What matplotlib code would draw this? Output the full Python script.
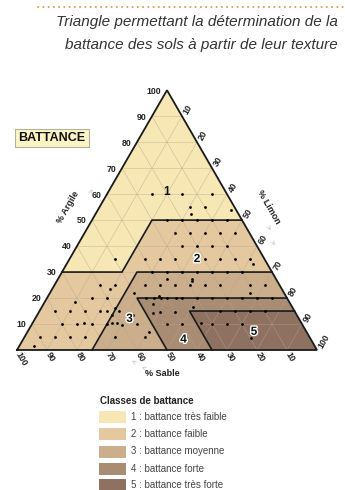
import numpy as np
import matplotlib
matplotlib.use("Agg")
import matplotlib.pyplot as plt
from matplotlib.patches import Polygon, Rectangle
import matplotlib.patheffects as pe
from matplotlib import font_manager

H = np.sqrt(3) / 2

title_lines = ["Triangle permettant la détermination de la",
               "battance des sols à partir de leur texture"]

class_labels = ["1 : battance très faible", "2 : battance faible",
                "3 : battance moyenne", "4 : battance forte",
                "5 : battance très forte"]
class_colors = ['#f6e7b5', '#e4c9a0', '#cbae8b', '#a98c74', '#8e7161']

# class polygons, vertices as (clay, silt)
class_1 = [(30, 0), (30, 20), (50, 20), (50, 50), (100, 0)]
class_2 = [(0, 0), (0, 25), (30, 25), (30, 70), (50, 50), (50, 20), (30, 20), (30, 0)]
class_3 = [(0, 25), (0, 50), (20, 30), (20, 80), (30, 70), (30, 25)]
class_4 = [(0, 50), (0, 65), (15, 50), (15, 85), (20, 80), (20, 30)]
class_5 = [(0, 65), (0, 100), (15, 85), (15, 50)]
classes = [class_1, class_2, class_3, class_4, class_5]

# class boundary lines (clay, silt)
borders = [
    [(30, 0), (30, 20), (50, 20), (50, 50)],
    [(0, 25), (30, 25), (30, 70)],
    [(0, 50), (20, 30), (20, 80)],
    [(0, 65), (15, 50), (15, 85)],
]

num_clay = [61, 35, 12, 4, 7]
num_silt = [19.5, 42.5, 31.5, 53.5, 75.5]

# soil samples
clay = [60, 60, 60, 55, 55, 52.3, 53.8, 35,
        50, 50, 50, 50, 50,
        45, 45, 45, 45, 45,
        40, 40, 40, 40,
        35, 35, 35, 35, 35, 35, 35, 33,
        30, 30, 30, 30, 30, 30, 30,
        27.4, 27.5, 26.6,
        25, 25, 25, 25, 25, 25, 25, 25,
        22, 22, 20.7,
        20, 20, 20, 20, 20, 20, 20, 20, 20, 20, 20, 20,
        17.7, 14.1, 14.5, 14.5, 16.5, 10, 10, 10.5, 10, 10, 10, 4.7, 15, 15, 15, 15,
        5, 5, 7, 10.3, 10.3, 9.8, 15.2, 13.5, 10,
        25, 25, 23.4, 20, 20, 18.5, 15, 15, 15, 15, 15.1, 13.5, 16,
        10, 10, 10.5, 10, 10, 5, 5, 5, 5, 1.5]
silt = [15, 25, 35, 30, 35, 31.8, 44.3, 15,
        25, 30, 35, 40, 45,
        30, 35, 40, 45, 50,
        35, 40, 45, 50,
        25, 30, 35, 45, 50, 55, 60, 62.3,
        30, 35, 40, 45, 50, 55, 60,
        36.4, 44.7, 45.1,
        30, 35, 40, 45, 50, 55, 65, 70,
        28, 66.7, 37,
        33, 35.5, 38, 40, 43, 45, 50, 55, 60, 65, 70, 75,
        36.6, 38.4, 40.4, 45.4, 50.3, 45, 50, 56, 60, 65, 70, 75.5, 60, 65, 70, 75,
        30, 40, 40.5, 26.6, 28.2, 30, 26.5, 31.8, 35,
        15, 20, 19.3, 15, 20, 10, 5, 10, 15, 20, 22.6, 24.9, 24.7,
        10, 15, 17, 20, 25, 5, 10, 15, 20, 5]

ticks = [10, 20, 30, 40, 50, 60, 70, 80, 90, 100]


def to_xy(c, s):
    c = np.asarray(c, dtype=float)
    s = np.asarray(s, dtype=float)
    return s + c / 2, c * H


names = {f.name for f in font_manager.fontManager.ttflist}
narrow = 'Liberation Sans Narrow' if 'Liberation Sans Narrow' in names else 'Liberation Sans'
title_size = 12 if narrow == 'Liberation Sans Narrow' else 11
plt.rcParams['font.family'] = ['Liberation Sans', 'DejaVu Sans']

fig = plt.figure(figsize=(3.45, 4.9), dpi=100)
ax = fig.add_axes([0, 0, 1, 1])
ax.set_xlim(-17 / 3, 328 / 3)
ax.set_ylim(-140 / 3, 350 / 3)
ax.axis('off')

# class fills
for poly, col in zip(classes, class_colors):
    c, s = zip(*poly)
    x, y = to_xy(c, s)
    ax.add_patch(Polygon(np.column_stack([x, y]), closed=True, facecolor=col,
                         edgecolor='none', zorder=1))

# grid
for t in range(10, 100, 10):
    for p in [((t, 0), (t, 100 - t)), ((0, t), (100 - t, t)), ((0, 100 - t), (100 - t, 0))]:
        c, s = zip(*p)
        x, y = to_xy(c, s)
        ax.plot(x, y, color='#b8a58a', lw=0.45, alpha=0.6, zorder=2)

# borders
for b in borders:
    c, s = zip(*b)
    x, y = to_xy(c, s)
    ax.plot(x, y, color='#1a1a1a', lw=1.2, zorder=3, solid_joinstyle='miter')

x, y = to_xy([0, 0, 100, 0], [0, 100, 0, 0])
ax.plot(x, y, color='#1a1a1a', lw=1.3, zorder=4, solid_joinstyle='miter')

# samples
x, y = to_xy(clay, silt)
ax.plot(x, y, 'o', color='black', ms=2.0, mec='none', zorder=5)

# class numbers
x, y = to_xy(num_clay, num_silt)
for i in range(5):
    ax.text(x[i], y[i], str(i + 1), ha='center', va='center', fontsize=8.5,
            fontweight='bold', color='#111', zorder=6,
            path_effects=[pe.withStroke(linewidth=2, foreground='white')] if i > 0 else None)

tick_kw = dict(fontsize=6.3, fontweight='bold', color='#222')
# clay ticks (left)
for t in ticks:
    tx, ty = to_xy(t, 0)
    ax.text(tx - 1.8, ty - 0.3, str(t), ha='right', va='center', **tick_kw)
# sand ticks (bottom)
for t in ticks:
    tx, ty = to_xy(0, 100 - t)
    ax.text(tx + 0.3, ty - 0.9, str(t), ha='left', va='center', rotation=-60,
            rotation_mode='anchor', **tick_kw)
# silt ticks (right)
for t in ticks:
    tx, ty = to_xy(100 - t, t)
    ax.text(tx + 1.2, ty + 0.9, str(t), ha='left', va='center', rotation=60,
            rotation_mode='anchor', **tick_kw)

title_kw = dict(fontsize=6.5, fontweight='bold', color='#222')
ax.text(17, 47.7, '% Argile', ha='center', va='center', rotation=60, **title_kw)
ax.text(84, 47.7, '% Limon', ha='center', va='center', rotation=-60, **title_kw)
ax.text(48.5, -7.8, '% Sable', ha='center', va='center', **title_kw)
arrow_kw = dict(fontsize=6, color='#aaaaaa', ha='center', va='center')
ax.text(25, 53, '>', rotation=60, **arrow_kw)
ax.text(83.7, 40.7, '>', rotation=-60, **arrow_kw)
ax.text(85, 35.7, '>', rotation=-60, **arrow_kw)
ax.text(38.7, -4, '<', rotation=-30, **arrow_kw)
ax.text(42, -6, '<', rotation=-30, **arrow_kw)

# title
fig.text(338 / 345, 1 - 22 / 490, title_lines[0], ha='right', va='center',
         fontsize=title_size, style='italic', color='#333', family=narrow)
fig.text(338 / 345, 1 - 45 / 490, title_lines[1], ha='right', va='center',
         fontsize=title_size, style='italic', color='#333', family=narrow)
ax.plot([38 / 345, 344 / 345], [1 - 7 / 490, 1 - 7 / 490], transform=fig.transFigure,
        color='#e09a40', lw=1.4, ls=(0, (0.1, 2.6)), dash_capstyle='round')

# BATTANCE box
fig.text(52 / 345, 1 - 138 / 490, 'BATTANCE', ha='center', va='center', fontsize=9,
         fontweight='bold', color='#111',
         bbox=dict(boxstyle='square,pad=0.25', facecolor='#fcf4c4', edgecolor='#b5b09a', lw=0.8))

# legend
fig.text(100 / 345, 1 - 401 / 490, 'Classes de battance', ha='left', va='center',
         fontsize=7, fontweight='bold', color='#222')
rows = [417, 434, 451.5, 468.5, 485]
for r, lab, col in zip(rows, class_labels, class_colors):
    fig.patches.append(Rectangle((99 / 345, 1 - (r + 6) / 490), 27 / 345, 12 / 490,
                                 transform=fig.transFigure, facecolor=col, edgecolor='none'))
    fig.text(131 / 345, 1 - r / 490, lab, ha='left', va='center', fontsize=7, color='#444')

fig.savefig('out.png', dpi=100)
